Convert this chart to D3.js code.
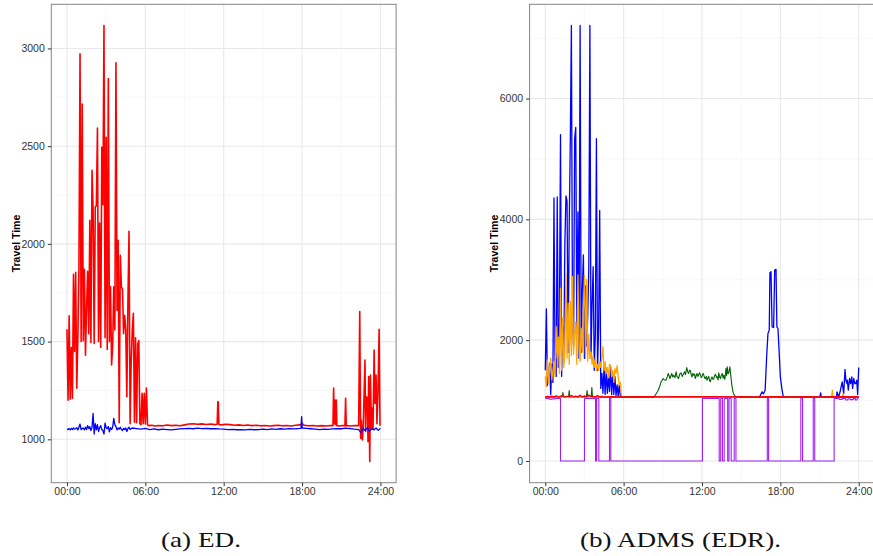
<!DOCTYPE html>
<html>
<head>
<meta charset="utf-8">
<script src="https://cdn.jsdelivr.net/npm/d3@7"></script>
<style>
  html, body { margin: 0; padding: 0; background: #ffffff; }
  svg { display: block; }
  .tick text { font-family: "Liberation Sans", Arial, sans-serif; }
</style>
</head>
<body>
<svg id="chart" width="873" height="556"></svg>
<script>
// ---- tick labels and grid positions ----
const timeTicks = [0, 360, 720, 1080, 1440];            // minutes of day
const timeTickLabels = ["00:00", "06:00", "12:00", "18:00", "24:00"];
const timeMinorTicks = [180, 540, 900, 1260];
const edValueTicks = [1000, 1500, 2000, 2500, 3000];
const edMinorTicks = [1250, 1750, 2250, 2750];
const admsValueTicks = [0, 2000, 4000, 6000];
const admsMinorTicks = [1000, 3000, 5000, 7000];
const captions = ["(a) ED.", "(b) ADMS (EDR)."];
const yTitle = "Travel Time";

// ---- panel (a): ED travel times, [minute, seconds] ----
const edRed = [
  [0,1563],[5,1200],[10,1632],[15,1205],[20,1470],[25,1210],[30,1845],[35,1450],[40,1855],[45,1262],
  [50,1520],[55,1876],[60,2973],[65,1500],[70,2716],[75,1505],[80,1870],[85,1430],[90,1675],[95,1860],
  [100,1540],[105,2121],[110,1495],[115,2377],[120,2180],[125,1490],[130,2190],[135,2195],[140,2593],[145,1500],
  [150,2107],[155,1470],[160,2494],[165,2200],[170,3117],[175,1520],[180,2545],[185,1460],[190,2846],[195,1500],
  [200,1780],[205,1380],[210,1480],[215,1780],[220,1560],[225,2927],[230,1660],[235,2019],[240,1085],[245,1942],
  [250,1780],[255,1768],[260,1540],[265,1635],[270,1560],[275,1218],[280,1700],[285,2065],[290,1080],[295,1400],
  [300,1559],[305,1645],[310,1088],[315,1520],[320,1085],[325,1488],[330,1505],[335,1080],[340,1075],[345,1235],
  [350,1080],[355,1236],[360,1078],[365,1262],[370,1075],[375,1070],
  [390,1072],[405,1068],[420,1071],[440,1069],[460,1073],[480,1070],[500,1072],[520,1069],[540,1074],[560,1078],
  [580,1080],[600,1077],[620,1079],[640,1076],[660,1078],[680,1075],[690,1077],[693,1192],[695,1192],[698,1076],
  [710,1074],[730,1077],[750,1075],[770,1072],[790,1074],[810,1071],[830,1073],[850,1070],[870,1072],[890,1069],
  [910,1071],[930,1068],[950,1070],[970,1072],[990,1069],[1010,1071],[1030,1068],[1050,1072],[1070,1074],[1080,1080],
  [1090,1072],[1110,1069],[1130,1071],[1150,1068],[1170,1070],[1190,1068],[1210,1071],[1222,1070],[1225,1262],[1228,1080],
  [1231,1201],[1234,1075],[1237,1201],[1240,1070],[1250,1068],[1265,1071],[1277,1069],[1280,1210],[1283,1070],[1300,1068],
  [1320,1071],[1340,1070],[1345,1654],[1349,1005],[1352,1099],[1357,997],[1361,1060],[1369,1406],[1372,1040],[1375,1218],
  [1380,1210],[1383,988],[1386,1321],[1391,886],[1394,1329],[1399,1050],[1403,1160],[1406,1050],[1411,1457],[1415,1184],
  [1420,1329],[1424,1080],[1429,1250],[1434,1563],[1438,1073],[1440,1070]
];
const edBlue = [
  [0,1052],[5,1050],[10,1055],[15,1048],[20,1056],[25,1050],[30,1058],[35,1052],[40,1054],[45,1060],
  [50,1048],[55,1062],[60,1078],[65,1050],[70,1055],[75,1058],[80,1048],[85,1062],[90,1050],[95,1070],
  [100,1055],[105,1065],[110,1045],[115,1060],[120,1133],[125,1027],[130,1080],[135,1048],[140,1075],[145,1040],
  [150,1060],[155,1070],[160,1050],[165,1045],[170,1027],[175,1083],[180,1058],[185,1055],[190,1065],[195,1038],
  [200,1060],[205,1050],[210,1062],[215,1107],[220,1075],[225,1065],[230,1048],[235,1058],[240,1052],[245,1062],
  [250,1050],[255,1045],[260,1056],[265,1050],[270,1058],[275,1040],[280,1055],[285,1062],[290,1050],[295,1055],
  [300,1058],[320,1055],[340,1052],[360,1056],[380,1050],[400,1053],[420,1049],[440,1052],[460,1050],[480,1048],
  [500,1051],[520,1053],[540,1055],[560,1056],[580,1054],[600,1057],[620,1055],[640,1056],[660,1054],[680,1055],
  [700,1053],[720,1052],[740,1050],[760,1051],[780,1049],[800,1050],[820,1048],[840,1051],[860,1049],[880,1050],
  [900,1052],[920,1050],[940,1053],[960,1051],[980,1054],[1000,1052],[1020,1055],[1040,1053],[1060,1055],[1075,1056],
  [1078,1116],[1081,1058],[1100,1056],[1120,1054],[1140,1052],[1160,1050],[1180,1052],[1200,1051],[1220,1053],[1240,1055],
  [1260,1054],[1280,1057],[1300,1055],[1320,1052],[1340,1050],[1350,1036],[1360,1056],[1370,1045],[1380,1060],[1390,1042],
  [1400,1055],[1410,1048],[1420,1058],[1430,1046],[1440,1056]
];

// ---- panel (b): ADMS (EDR) travel times, [minute, seconds] ----
const admsBlue = [
  [0,1500],[5,2519],[10,1250],[15,1420],[20,1617],[25,1100],[30,1600],[35,1300],[40,4353],[45,1500],
  [50,1400],[55,4370],[60,1550],[65,2300],[70,5402],[75,1400],[80,2225],[85,1650],[90,3600],[95,4387],
  [100,4304],[105,1800],[110,3900],[115,5290],[120,7210],[125,2400],[130,1900],[135,5335],[140,5523],[145,2100],
  [150,4125],[155,1700],[160,7210],[165,1800],[170,2800],[175,3413],[180,1700],[185,2900],[190,1900],[195,2400],
  [200,3200],[205,7210],[210,1700],[215,2600],[220,3216],[225,1500],[230,2100],[235,5335],[240,1500],[245,2200],
  [250,4148],[255,1200],[260,1450],[265,1120],[270,1560],[275,1100],[280,1500],[285,1120],[290,1400],[295,1150],
  [300,1550],[305,1100],[310,1450],[315,1100],[320,1396],[325,1080],[330,1258],[335,1070],[340,1260],[345,1070],
  [350,1060],[360,1060],[480,1062],[600,1060],[720,1061],[840,1060],[985,1060],[988,1088],[996,1144],[1002,1110],
  [1010,1171],[1017,1724],[1023,2110],[1029,2166],[1032,3116],[1037,3133],[1042,2221],[1049,2210],[1054,3160],[1060,3171],
  [1064,2220],[1069,2193],[1074,1834],[1080,1392],[1088,1171],[1092,1088],[1096,1060],[1262,1060],[1265,1127],[1268,1060],
  [1338,1060],[1340,1144],[1348,1060],[1356,1171],[1364,1309],[1371,1110],[1377,1514],[1381,1337],[1386,1281],[1388,1337],
  [1392,1171],[1398,1365],[1403,1281],[1408,1392],[1412,1200],[1417,1365],[1422,1281],[1426,1281],[1431,1337],[1435,1100],
  [1440,1547]
];
const admsOrange = [
  [0,1400],[5,1230],[10,1674],[15,1300],[20,1550],[25,1700],[30,1340],[35,1500],[40,1650],[45,1400],
  [50,2223],[55,1700],[60,2050],[65,1450],[70,2861],[75,1500],[80,2364],[85,1550],[90,1800],[95,3110],
  [100,1700],[105,2613],[110,1600],[115,2640],[120,1750],[125,3054],[130,1767],[135,2098],[140,2300],[145,1600],
  [150,3081],[155,1900],[160,1650],[165,2200],[170,1800],[175,2500],[180,3082],[185,1700],[190,3000],[195,1650],
  [200,2100],[205,1700],[210,1800],[215,1600],[220,1750],[225,1550],[230,1700],[235,1500],[240,1600],[245,1500],
  [250,1650],[255,1550],[260,1700],[265,1894],[270,1500],[275,1640],[280,1450],[285,1550],[290,1380],[295,1600],
  [300,1580],[305,1400],[310,1500],[315,1300],[320,1530],[325,1450],[330,1580],[335,1400],[340,1250],[345,1300],
  [350,1080],[355,1060],[600,1058],[1000,1058],[1315,1058],[1319,1171],[1322,1058],[1366,1058],[1368,1120],[1370,1058],
  [1440,1058]
];
const admsGreen = [
  [0,1055],[60,1058],[78,1060],[81,1131],[84,1060],[107,1062],[110,1164],[113,1060],[150,1058],[189,1060],
  [192,1164],[195,1060],[211,1062],[214,1214],[217,1060],[300,1055],[420,1056],[500,1058],
  [505,1088],[516,1150],[524,1215],[532,1309],[542,1365],[548,1340],[554,1337],[561,1400],[565,1448],[573,1365],
  [581,1448],[586,1390],[590,1420],[596,1380],[601,1475],[605,1400],[612,1365],[618,1440],[624,1458],[629,1400],
  [632,1420],[640,1475],[644,1430],[650,1547],[655,1470],[658,1448],[663,1500],[666,1500],[671,1420],[674,1392],
  [678,1450],[682,1420],[686,1440],[689,1365],[694,1420],[697,1448],[701,1400],[704,1420],[709,1460],[712,1430],
  [717,1380],[720,1400],[725,1450],[728,1420],[733,1370],[736,1365],[740,1400],[743,1337],[748,1380],[751,1400],
  [755,1330],[758,1310],[763,1370],[766,1392],[771,1350],[774,1365],[779,1420],[782,1436],[787,1380],[790,1392],
  [794,1340],[797,1460],[802,1380],[805,1365],[809,1420],[813,1448],[817,1370],[820,1420],[825,1350],[830,1530],
  [833,1410],[836,1558],[839,1450],[842,1448],[845,1500],[848,1558],[853,1392],[857,1254],[864,1116],[871,1077],
  [879,1060],[890,1055],[1440,1056]
];
const admsPurple = [
  [0,1035],[15,1030],[20,1022],[30,1028],[45,1035],[70,0],[180,1035],[231,0],[236,1035],[246,0],
  [295,1035],[301,0],[722,1035],[799,0],[806,1035],[814,0],[822,1035],[838,0],[844,1035],[854,0],
  [868,1035],[876,0],[1020,1035],[1026,0],[1174,1035],[1182,0],[1231,1035],[1238,0],[1327,1035],[1350,1020],
  [1365,1035],[1380,1010],[1390,1030],[1400,1015],[1415,1032],[1425,1008],[1432,1030],[1440,1030]
];
const admsRed = [
  [0,1062],[10,1068],[20,1058],[30,1072],[40,1062],[50,1078],[60,1060],[70,1068],[80,1092],[85,1062],
  [100,1070],[110,1060],[120,1082],[130,1065],[140,1072],[150,1060],[160,1088],[170,1062],[180,1075],[190,1062],
  [200,1092],[210,1065],[220,1070],[230,1060],[240,1082],[250,1062],[260,1068],[270,1060],[300,1064],[360,1060],
  [420,1062],[480,1064],[540,1061],[600,1064],[660,1062],[720,1065],[780,1062],[840,1060],[900,1063],[960,1061],
  [1020,1064],[1080,1062],[1140,1060],[1200,1063],[1260,1061],[1320,1064],[1380,1062],[1440,1063]
];

// ---- drawing ----
const svg = d3.select("#chart");
const panelTop = 4.3, panelBottom = 482.7;

function drawPanel(opts) {
  const x = d3.scaleLinear().domain([-72, 1512]).range([opts.left, opts.left + 344.8]);
  const y = d3.scaleLinear().domain(opts.yDomain).range([panelBottom, panelTop]);
  const g = svg.append("g");
  const x0 = x.range()[0], x1 = x.range()[1];

  // minor grid
  g.selectAll("line.vmin").data(timeMinorTicks).join("line")
    .attr("x1", d => x(d)).attr("x2", d => x(d)).attr("y1", panelTop).attr("y2", panelBottom)
    .attr("stroke", "#f3f3f3").attr("stroke-width", 0.6);
  g.selectAll("line.hmin").data(opts.minor).join("line")
    .attr("y1", d => y(d)).attr("y2", d => y(d)).attr("x1", x0).attr("x2", x1)
    .attr("stroke", "#f3f3f3").attr("stroke-width", 0.6);
  // major grid
  g.selectAll("line.vmaj").data(timeTicks).join("line")
    .attr("x1", d => x(d)).attr("x2", d => x(d)).attr("y1", panelTop).attr("y2", panelBottom)
    .attr("stroke", "#e8e8e8").attr("stroke-width", 1.1);
  g.selectAll("line.hmaj").data(opts.ticks).join("line")
    .attr("y1", d => y(d)).attr("y2", d => y(d)).attr("x1", x0).attr("x2", x1)
    .attr("stroke", "#e8e8e8").attr("stroke-width", 1.1);

  // series
  opts.series.forEach(s => {
    const line = d3.line().x(d => x(d[0])).y(d => y(d[1]))
      .curve(s.step ? d3.curveStepAfter : d3.curveLinear);
    g.append("path").datum(s.data)
      .attr("d", line)
      .attr("fill", "none")
      .attr("stroke", s.color)
      .attr("stroke-width", s.width)
      .attr("stroke-linejoin", "round");
  });

  // border
  g.append("rect").attr("x", x0).attr("y", panelTop).attr("width", x1 - x0).attr("height", panelBottom - panelTop)
    .attr("fill", "none").attr("stroke", "#858585").attr("stroke-width", 1);

  // axes
  const ya = g.append("g").attr("transform", `translate(${x0},0)`)
    .call(d3.axisLeft(y).tickValues(opts.ticks).tickSize(3.5).tickPadding(3).tickFormat(d3.format("d")));
  const xa = g.append("g").attr("transform", `translate(0,${panelBottom})`)
    .call(d3.axisBottom(x).tickValues(timeTicks).tickSize(3.5).tickPadding(1.5)
      .tickFormat((d, i) => timeTickLabels[i]));
  [ya, xa].forEach(a => {
    a.select(".domain").remove();
    a.selectAll(".tick line").attr("stroke", "#333");
    a.selectAll(".tick text").attr("fill", "#333").attr("font-size", "10.5px");
  });

  // y-axis title
  g.append("text")
    .attr("transform", `translate(${opts.titleX},${(panelTop + panelBottom) / 2}) rotate(-90)`)
    .attr("text-anchor", "middle")
    .attr("font-family", "Liberation Sans, Arial, sans-serif")
    .attr("font-weight", "bold").attr("font-size", "10.5px").attr("fill", "#000")
    .text(yTitle);

  // caption (glyphs widened to the caption's set width)
  g.append("text")
    .attr("x", opts.capX).attr("y", 547)
    .attr("text-anchor", "middle")
    .attr("font-family", "Liberation Serif, Times New Roman, serif")
    .attr("font-size", "22px").attr("fill", "#111")
    .attr("textLength", opts.capW).attr("lengthAdjust", "spacingAndGlyphs")
    .text(opts.caption);
}

drawPanel({
  left: 51.3, yDomain: [778, 3226], ticks: edValueTicks, minor: edMinorTicks,
  titleX: 19.5, capX: 201, capW: 80, caption: captions[0],
  series: [
    { data: edRed, color: "#ff0000", width: 1.6 },
    { data: edBlue, color: "#0000ff", width: 1.3 }
  ]
});

drawPanel({
  left: 529.6, yDomain: [-360, 7560], ticks: admsValueTicks, minor: admsMinorTicks,
  titleX: 498, capX: 680.5, capW: 201, caption: captions[1],
  series: [
    { data: admsBlue, color: "#0000ff", width: 1.3 },
    { data: admsOrange, color: "#ffa500", width: 1.3 },
    { data: admsGreen, color: "#006400", width: 1.1 },
    { data: admsPurple, color: "#a020f0", width: 1.1, step: true },
    { data: admsRed, color: "#ff0000", width: 1.4 }
  ]
});
</script>
</body>
</html>
